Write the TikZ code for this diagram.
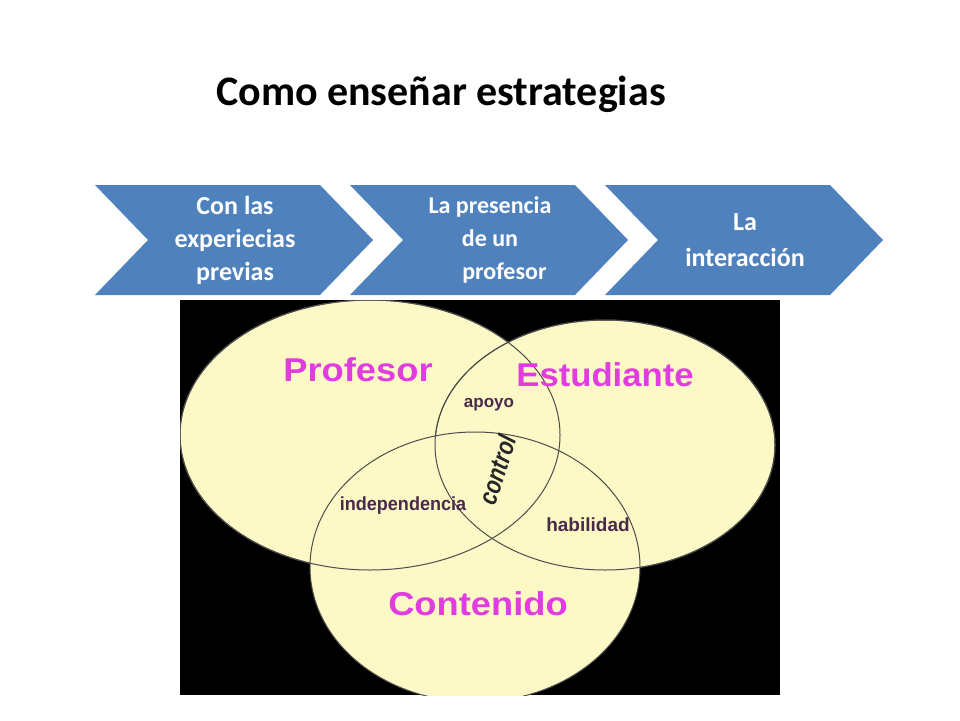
\documentclass[tikz,border=0pt]{standalone}
\usepackage{fontspec}
\setmainfont{Carlito}
\newfontfamily\venn{Liberation Sans}
\definecolor{chev}{HTML}{4F81BD}
\definecolor{cream}{HTML}{FCF9C6}
\definecolor{mag}{HTML}{E03CE0}
\definecolor{dpur}{HTML}{4A2A4A}
\begin{document}
\begin{tikzpicture}[x=1pt,y=-1pt,
 chevtext/.style={text=white,font=\bfseries\fontsize{26}{33}\selectfont,align=center},
 big/.style={text=mag,font=\venn\bfseries\fontsize{33}{36}\selectfont},
 small/.style={text=dpur,font=\venn\bfseries\fontsize{19}{22}\selectfont},
 ring/.style={fill=cream,draw=black!70,line width=1pt}]
\useasboundingbox[fill=white] (0,0) rectangle (960,720);
\node[font=\bfseries\fontsize{42}{46}\selectfont] (title) at (441,94) {Como enseñar estrategias};
\foreach \x in {95,350,605}{
 \fill[chev] (\x,185) -- (\x+225,185) -- (\x+278,240) -- (\x+225,295) -- (\x,295) -- (\x+53,240) -- cycle;}
\node[chevtext] (c1) at (235,240) {Con las\\experiecias\\previas};
\node[chevtext,font=\bfseries\fontsize{24}{33}\selectfont] (c2) at (490,240) {La presencia\\de un\\\hspace{1.2em}profesor};
\node[chevtext,font=\bfseries\fontsize{26}{36}\selectfont] (c3) at (745,240) {La\\interacción};
\fill[black] (180,300) rectangle (780,695);
\begin{scope}
\clip (180,300) rectangle (780,695);
\draw[ring] (370,435) ellipse [x radius=190,y radius=135];
\draw[ring] (605,445) ellipse [x radius=170,y radius=125];
\draw[ring] (475,567) ellipse [x radius=165,y radius=135];
\draw[black!70,line width=1pt] (370,435) ellipse [x radius=190,y radius=135];
\draw[black!70,line width=1pt] (605,445) ellipse [x radius=170,y radius=125];
\end{scope}
\node[big,xscale=1.1] (p) at (358,370) {Profesor};
\node[big,xscale=1.05] (e) at (605,375) {Estudiante};
\node[big,xscale=1.1] (k) at (478,604) {Contenido};
\node[small,font=\venn\bfseries\fontsize{17}{20}\selectfont] (a) at (489,405) {apoyo};
\node[small,xscale=0.95] (i) at (403,506) {independencia};
\node[small] (h) at (588,525) {habilidad};
\node[font=\venn\bfseries\itshape\fontsize{26}{28}\selectfont,rotate=72,text=black!85,xscale=0.8,inner sep=0pt] (ctl) at (497,470) {control};
\end{tikzpicture}
\end{document}
